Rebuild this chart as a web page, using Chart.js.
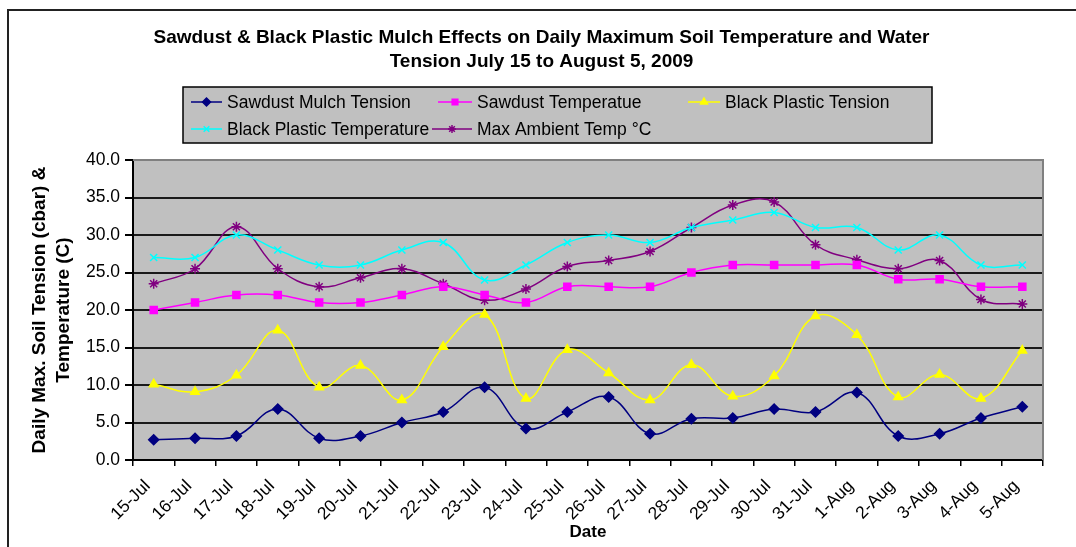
<!DOCTYPE html>
<html>
<head>
<meta charset="utf-8">
<script src="https://cdn.jsdelivr.net/npm/chart.js@4.4.0/dist/chart.umd.min.js"></script>
<style>
  html, body { margin: 0; padding: 0; background: #fff; }
  #wrap { width: 1076px; height: 547px; position: relative; }
</style>
</head>
<body>
<div id="wrap"><canvas id="chart" width="1076" height="547"></canvas></div>
<script>
// categories
const dates = ['15-Jul','16-Jul','17-Jul','18-Jul','19-Jul','20-Jul','21-Jul','22-Jul','23-Jul','24-Jul','25-Jul',
  '26-Jul','27-Jul','28-Jul','29-Jul','30-Jul','31-Jul','1-Aug','2-Aug','3-Aug','4-Aug','5-Aug'];

// series
const sawdustTension = [2.7,2.9,3.2,6.8,2.9,3.2,5.0,6.4,9.7,4.2,6.4,8.4,3.5,5.5,5.6,6.8,6.4,9.0,3.2,3.5,5.6,7.1];
const sawdustTemp = [20,21,22,22,21,21,22,23.1,22,21,23.1,23.1,23.1,25,26,26,26,26,24.1,24.1,23.1,23.1];
const plasticTension = [10.1,9.1,11.3,17.3,9.7,12.6,8.0,15.1,19.4,8.2,14.7,11.6,8.0,12.7,8.5,11.2,19.2,16.7,8.4,11.4,8.2,14.6];
const plasticTemp = [27,27,30,28,26,26,28,29,24,26,29,30,29,31,32,33,31,31,28,30,26,26];
const ambientTemp = [23.5,25.5,31.1,25.5,23.1,24.3,25.5,23.5,21.3,22.8,25.8,26.6,27.8,31,34,34.4,28.7,26.7,25.5,26.6,21.4,20.8];

// y axis ticks
const yMin = 0, yMax = 40, yStep = 5;

const FONT = "'Liberation Sans', Arial, sans-serif";

function serie(label, data, color, style) {
  return {
    label: label,
    data: data,
    borderColor: color,
    backgroundColor: color,
    borderWidth: 1.5,
    pointStyle: style,
    pointRadius: 5,
    pointHoverRadius: 5,
    pointBorderWidth: 1.5,
    pointBackgroundColor: color,
    pointBorderColor: color,
    tension: 0.4,
    fill: false
  };
}

// fondo, marco y area gris
const fondo = {
  id: 'fondo',
  beforeDraw(chart) {
    const ctx = chart.ctx, a = chart.chartArea;
    ctx.save();
    ctx.fillStyle = '#fff';
    ctx.fillRect(0, 0, chart.width, chart.height);
    ctx.strokeStyle = '#222';
    ctx.lineWidth = 2;
    ctx.strokeRect(8, 10, chart.width + 20, chart.height + 20);
    ctx.fillStyle = '#c0c0c0';
    ctx.fillRect(a.left, a.top, a.right - a.left, a.bottom - a.top);
    ctx.restore();
  },
  beforeDatasetsDraw(chart) {
    const ctx = chart.ctx, a = chart.chartArea;
    ctx.save();
    ctx.strokeStyle = '#808080';
    ctx.lineWidth = 2;
    ctx.beginPath();
    ctx.moveTo(a.left, a.top);
    ctx.lineTo(a.right, a.top);
    ctx.lineTo(a.right, a.bottom);
    ctx.stroke();
    ctx.restore();
  }
};

// leyenda con caja gris (dos filas, tres columnas)
const leyenda = {
  id: 'leyenda',
  afterDraw(chart) {
    const ctx = chart.ctx;
    const box = { x: 183, y: 87, w: 749, h: 56 };
    const spots = [
      { x0: 191, x1: 222, y: 102 }, { x0: 438, x1: 472, y: 102 }, { x0: 688, x1: 720, y: 102 },
      { x0: 191, x1: 222, y: 129 }, { x0: 432, x1: 472, y: 129 }
    ];
    ctx.save();
    ctx.fillStyle = '#c0c0c0';
    ctx.fillRect(box.x, box.y, box.w, box.h);
    ctx.strokeStyle = '#000';
    ctx.lineWidth = 1.5;
    ctx.strokeRect(box.x, box.y, box.w, box.h);
    ctx.font = '17.5px ' + FONT;
    ctx.textBaseline = 'middle';
    ctx.textAlign = 'left';
    chart.data.datasets.forEach((ds, i) => {
      const s = spots[i];
      ctx.strokeStyle = ds.borderColor;
      ctx.lineWidth = 1.5;
      ctx.beginPath();
      ctx.moveTo(s.x0, s.y);
      ctx.lineTo(s.x1, s.y);
      ctx.stroke();
      ctx.fillStyle = ds.borderColor;
      if (Chart.helpers && Chart.helpers.drawPoint) {
        Chart.helpers.drawPoint(ctx, { pointStyle: ds.pointStyle, radius: 4, rotation: 0, borderWidth: 1.5 }, (s.x0 + s.x1) / 2, s.y);
      }
      ctx.fillStyle = '#000';
      ctx.fillText(ds.label, s.x1 + 5, s.y + 1);
    });
    ctx.restore();
  }
};

new Chart(document.getElementById('chart'), {
  type: 'line',
  data: {
    labels: dates,
    datasets: [
      serie('Sawdust Mulch Tension', sawdustTension, '#000080', 'rectRot'),
      serie('Sawdust Temperatue', sawdustTemp, '#ff00ff', 'rect'),
      serie('Black Plastic Tension', plasticTension, '#ffff00', 'triangle'),
      serie('Black Plastic Temperature', plasticTemp, '#00ffff', 'crossRot'),
      serie('Max Ambient Temp °C', ambientTemp, '#800080', 'star')
    ]
  },
  options: {
    responsive: false,
    animation: false,
    events: [],
    layout: { padding: { top: 0, left: 40, right: 33, bottom: 0 } },
    plugins: {
      legend: { display: false },
      tooltip: { enabled: false },
      title: {
        display: true,
        text: ['Sawdust & Black Plastic Mulch Effects on Daily Maximum Soil Temperature and Water',
               'Tension July 15 to August 5, 2009'],
        color: '#000',
        font: { family: FONT, size: 19, weight: 'bold', lineHeight: '24px' },
        padding: { top: 26, bottom: 86 }
      }
    },
    scales: {
      x: {
        type: 'category',
        offset: true,
        grid: { offset: true, drawOnChartArea: false, drawTicks: true, tickLength: 6, color: '#000', lineWidth: 1.5 },
        border: { display: true, color: '#000', width: 2 },
        ticks: {
          autoSkip: false, minRotation: 45, maxRotation: 45, color: '#000', padding: 10, labelOffset: -6,
          font: { family: FONT, size: 17.5 }
        },
        title: {
          display: true, text: 'Date', color: '#000',
          font: { family: FONT, size: 17, weight: 'bold' },
          padding: { top: 0, bottom: 4 }
        },
        afterFit(scale) { scale.height = 87; }
      },
      y: {
        min: yMin, max: yMax,
        grid: {
          color: c => (c.tick && c.tick.value === yMax) ? '#808080' : '#1a1a1a',
          lineWidth: 2,
          tickColor: '#000',
          tickLength: 8
        },
        border: { display: true, color: '#000', width: 2 },
        ticks: {
          stepSize: yStep, color: '#000', padding: 5,
          font: { family: FONT, size: 17.5 },
          callback: v => Number(v).toFixed(1)
        },
        title: {
          display: true,
          text: ['Daily Max. Soil Tension (cbar) &', 'Temperature (C)'],
          color: '#000',
          font: { family: FONT, size: 19, weight: 'bold', lineHeight: '24px' },
          padding: { top: -12, bottom: 0 }
        },
        afterFit(scale) { scale.width = 93; }
      }
    }
  },
  plugins: [fondo, leyenda]
});
</script>
</body>
</html>
